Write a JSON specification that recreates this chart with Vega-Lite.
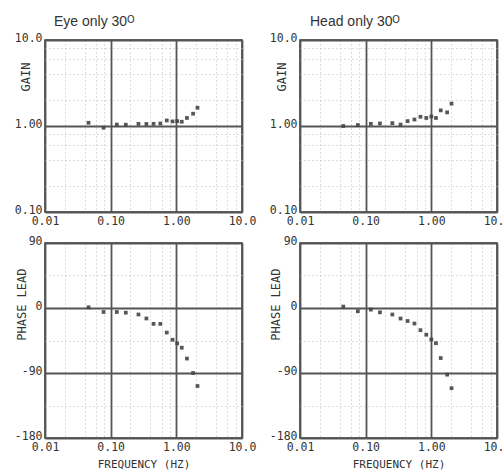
{
  "$schema": "https://vega.github.io/schema/vega-lite/v6.json",
  "background": "white",
  "padding": {"left": 13, "top": 14, "right": 0, "bottom": 0},
  "config": {
    "view": {"stroke": "#333", "strokeWidth": 1.5},
    "axis": {"domain": false, "ticks": false, "labelFont": "DejaVu Sans Mono", "labelFontSize": 11.5, "labelColor": "#333", "titleFont": "DejaVu Sans Mono", "titleFontWeight": "normal", "titleFontSize": 12, "titleColor": "#333", "labelPadding": 3, "labelOverlap": false, "labelBound": false, "labelFlush": false},
    "title": {"font": "Liberation Sans", "fontSize": 14, "fontWeight": "normal", "color": "#333", "anchor": "start", "frame": "group"},
    "point": {"shape": "square", "filled": true, "size": 14, "color": "#444", "opacity": 0.9}
  },
  "data": {"values": [
    {"panel": "Eye", "freq": 0.046, "gain": 1.09, "phase": 1},
    {"panel": "Eye", "freq": 0.078, "gain": 0.955, "phase": -5.5},
    {"panel": "Eye", "freq": 0.124, "gain": 1.04, "phase": -5.5},
    {"panel": "Eye", "freq": 0.17, "gain": 1.035, "phase": -6.5},
    {"panel": "Eye", "freq": 0.265, "gain": 1.06, "phase": -9},
    {"panel": "Eye", "freq": 0.35, "gain": 1.055, "phase": -14.5},
    {"panel": "Eye", "freq": 0.45, "gain": 1.06, "phase": -22},
    {"panel": "Eye", "freq": 0.57, "gain": 1.07, "phase": -22},
    {"panel": "Eye", "freq": 0.715, "gain": 1.16, "phase": -34},
    {"panel": "Eye", "freq": 0.875, "gain": 1.13, "phase": -44},
    {"panel": "Eye", "freq": 1.03, "gain": 1.14, "phase": -49},
    {"panel": "Eye", "freq": 1.21, "gain": 1.12, "phase": -55},
    {"panel": "Eye", "freq": 1.45, "gain": 1.24, "phase": -70},
    {"panel": "Eye", "freq": 1.8, "gain": 1.39, "phase": -90},
    {"panel": "Eye", "freq": 2.1, "gain": 1.63, "phase": -108},
    {"panel": "Head", "freq": 0.0456, "gain": 1.0, "phase": 2},
    {"panel": "Head", "freq": 0.076, "gain": 1.027, "phase": -4.5},
    {"panel": "Head", "freq": 0.12, "gain": 1.06, "phase": -2.2},
    {"panel": "Head", "freq": 0.165, "gain": 1.07, "phase": -6},
    {"panel": "Head", "freq": 0.255, "gain": 1.08, "phase": -9},
    {"panel": "Head", "freq": 0.34, "gain": 1.04, "phase": -14.6},
    {"panel": "Head", "freq": 0.435, "gain": 1.14, "phase": -18},
    {"panel": "Head", "freq": 0.553, "gain": 1.19, "phase": -21.5},
    {"panel": "Head", "freq": 0.683, "gain": 1.28, "phase": -30.7},
    {"panel": "Head", "freq": 0.838, "gain": 1.24, "phase": -37},
    {"panel": "Head", "freq": 1.0, "gain": 1.29, "phase": -43.6},
    {"panel": "Head", "freq": 1.175, "gain": 1.24, "phase": -48.7},
    {"panel": "Head", "freq": 1.39, "gain": 1.52, "phase": -69.3},
    {"panel": "Head", "freq": 1.74, "gain": 1.44, "phase": -92.3},
    {"panel": "Head", "freq": 2.03, "gain": 1.82, "phase": -111}
  ]},
  "spacing": 11,
  "hconcat": [
    {
      "spacing": 6,
      "vconcat": [
        {
          "width": 197, "height": 172,
          "title": {"text": "Eye only 30ᴼ", "dx": 9, "offset": 3},
          "transform": [{"filter": "datum.panel == 'Eye'"}],
          "mark": "point",
          "encoding": {
            "x": {"field": "freq", "type": "quantitative", "scale": {"type": "log", "domain": [0.01, 10], "nice": false},
              "axis": {"title": null, "values": [0.01, 0.02, 0.04, 0.06, 0.08, 0.1, 0.2, 0.4, 0.6, 0.8, 1, 2, 4, 6, 8, 10],
                "labelExpr": "datum.value == 0.01 ? '0.01' : datum.value == 0.1 ? '0.10' : datum.value == 1 ? '1.00' : datum.value == 10 ? '10.0' : ''",
                "gridColor": {"condition": {"test": "datum.value == 0.01 || datum.value == 0.1 || datum.value == 1 || datum.value == 10", "value": "#555"}, "value": "#bbb"},
                "gridWidth": {"condition": {"test": "datum.value == 0.01 || datum.value == 0.1 || datum.value == 1 || datum.value == 10", "value": 1.8}, "value": 1},
                "gridDash": {"condition": {"test": "datum.value == 0.01 || datum.value == 0.1 || datum.value == 1 || datum.value == 10", "value": []}, "value": [1, 3]}}},
            "y": {"field": "gain", "type": "quantitative", "scale": {"type": "log", "domain": [0.1, 10], "nice": false},
              "axis": {"title": "GAIN", "titleX": -20, "titleY": 22, "titleAlign": "right", "titleBaseline": "middle", "labelBaseline": "alphabetic", "labelOffset": 1,
                "values": [0.1, 0.2, 0.4, 0.6, 0.8, 1, 2, 4, 6, 8, 10],
                "labelExpr": "datum.value == 0.1 ? '0.10' : datum.value == 1 ? '1.00' : datum.value == 10 ? '10.0' : ''",
                "gridColor": {"condition": {"test": "datum.value == 0.1 || datum.value == 1 || datum.value == 10", "value": "#555"}, "value": "#bbb"},
                "gridWidth": {"condition": {"test": "datum.value == 0.1 || datum.value == 1 || datum.value == 10", "value": 1.8}, "value": 1},
                "gridDash": {"condition": {"test": "datum.value == 0.1 || datum.value == 1 || datum.value == 10", "value": []}, "value": [1, 3]}}}
          }
        },
        {
          "width": 197, "height": 195,
          "transform": [{"filter": "datum.panel == 'Eye'"}],
          "mark": "point",
          "encoding": {
            "x": {"field": "freq", "type": "quantitative", "scale": {"type": "log", "domain": [0.01, 10], "nice": false},
              "axis": {"title": "FREQUENCY (HZ)", "titleFontSize": 11, "titlePadding": 6, "values": [0.01, 0.02, 0.04, 0.06, 0.08, 0.1, 0.2, 0.4, 0.6, 0.8, 1, 2, 4, 6, 8, 10],
                "labelExpr": "datum.value == 0.01 ? '0.01' : datum.value == 0.1 ? '0.10' : datum.value == 1 ? '1.00' : datum.value == 10 ? '10.0' : ''",
                "gridColor": {"condition": {"test": "datum.value == 0.01 || datum.value == 0.1 || datum.value == 1 || datum.value == 10", "value": "#555"}, "value": "#bbb"},
                "gridWidth": {"condition": {"test": "datum.value == 0.01 || datum.value == 0.1 || datum.value == 1 || datum.value == 10", "value": 1.8}, "value": 1},
                "gridDash": {"condition": {"test": "datum.value == 0.01 || datum.value == 0.1 || datum.value == 1 || datum.value == 10", "value": []}, "value": [1, 3]}}},
            "y": {"field": "phase", "type": "quantitative", "scale": {"domain": [-180, 90], "nice": false, "zero": false},
              "axis": {"title": "PHASE LEAD", "titleX": -24, "titleY": 25, "titleAlign": "right", "titleBaseline": "middle", "labelBaseline": "alphabetic", "labelOffset": 1,
                "values": [-180, -135, -90, -45, 0, 45, 90],
                "labelExpr": "datum.value % 90 == 0 ? '' + datum.value : ''",
                "gridColor": {"condition": {"test": "datum.value % 90 == 0", "value": "#555"}, "value": "#bbb"},
                "gridWidth": {"condition": {"test": "datum.value % 90 == 0", "value": 1.8}, "value": 1},
                "gridDash": {"condition": {"test": "datum.value % 90 == 0", "value": []}, "value": [1, 3]}}}
          }
        }
      ]
    },
    {
      "spacing": 6,
      "vconcat": [
        {
          "width": 197, "height": 172,
          "title": {"text": "Head only 30ᴼ", "dx": 10, "offset": 3},
          "transform": [{"filter": "datum.panel == 'Head'"}],
          "mark": "point",
          "encoding": {
            "x": {"field": "freq", "type": "quantitative", "scale": {"type": "log", "domain": [0.01, 10], "nice": false},
              "axis": {"title": null, "values": [0.01, 0.02, 0.04, 0.06, 0.08, 0.1, 0.2, 0.4, 0.6, 0.8, 1, 2, 4, 6, 8, 10],
                "labelExpr": "datum.value == 0.01 ? '0.01' : datum.value == 0.1 ? '0.10' : datum.value == 1 ? '1.00' : datum.value == 10 ? '10.0' : ''",
                "gridColor": {"condition": {"test": "datum.value == 0.01 || datum.value == 0.1 || datum.value == 1 || datum.value == 10", "value": "#555"}, "value": "#bbb"},
                "gridWidth": {"condition": {"test": "datum.value == 0.01 || datum.value == 0.1 || datum.value == 1 || datum.value == 10", "value": 1.8}, "value": 1},
                "gridDash": {"condition": {"test": "datum.value == 0.01 || datum.value == 0.1 || datum.value == 1 || datum.value == 10", "value": []}, "value": [1, 3]}}},
            "y": {"field": "gain", "type": "quantitative", "scale": {"type": "log", "domain": [0.1, 10], "nice": false},
              "axis": {"title": "GAIN", "titleX": -19, "titleY": 22, "titleAlign": "right", "titleBaseline": "middle", "labelBaseline": "alphabetic", "labelOffset": 1,
                "values": [0.1, 0.2, 0.4, 0.6, 0.8, 1, 2, 4, 6, 8, 10],
                "labelExpr": "datum.value == 0.1 ? '0.10' : datum.value == 1 ? '1.00' : datum.value == 10 ? '10.0' : ''",
                "gridColor": {"condition": {"test": "datum.value == 0.1 || datum.value == 1 || datum.value == 10", "value": "#555"}, "value": "#bbb"},
                "gridWidth": {"condition": {"test": "datum.value == 0.1 || datum.value == 1 || datum.value == 10", "value": 1.8}, "value": 1},
                "gridDash": {"condition": {"test": "datum.value == 0.1 || datum.value == 1 || datum.value == 10", "value": []}, "value": [1, 3]}}}
          }
        },
        {
          "width": 197, "height": 195,
          "transform": [{"filter": "datum.panel == 'Head'"}],
          "mark": "point",
          "encoding": {
            "x": {"field": "freq", "type": "quantitative", "scale": {"type": "log", "domain": [0.01, 10], "nice": false},
              "axis": {"title": "FREQUENCY (HZ)", "titleFontSize": 11, "titlePadding": 6, "values": [0.01, 0.02, 0.04, 0.06, 0.08, 0.1, 0.2, 0.4, 0.6, 0.8, 1, 2, 4, 6, 8, 10],
                "labelExpr": "datum.value == 0.01 ? '0.01' : datum.value == 0.1 ? '0.10' : datum.value == 1 ? '1.00' : datum.value == 10 ? '10.0' : ''",
                "gridColor": {"condition": {"test": "datum.value == 0.01 || datum.value == 0.1 || datum.value == 1 || datum.value == 10", "value": "#555"}, "value": "#bbb"},
                "gridWidth": {"condition": {"test": "datum.value == 0.01 || datum.value == 0.1 || datum.value == 1 || datum.value == 10", "value": 1.8}, "value": 1},
                "gridDash": {"condition": {"test": "datum.value == 0.01 || datum.value == 0.1 || datum.value == 1 || datum.value == 10", "value": []}, "value": [1, 3]}}},
            "y": {"field": "phase", "type": "quantitative", "scale": {"domain": [-180, 90], "nice": false, "zero": false},
              "axis": {"title": "PHASE LEAD", "titleX": -25, "titleY": 25, "titleAlign": "right", "titleBaseline": "middle", "labelBaseline": "alphabetic", "labelOffset": 1,
                "values": [-180, -135, -90, -45, 0, 45, 90],
                "labelExpr": "datum.value % 90 == 0 ? '' + datum.value : ''",
                "gridColor": {"condition": {"test": "datum.value % 90 == 0", "value": "#555"}, "value": "#bbb"},
                "gridWidth": {"condition": {"test": "datum.value % 90 == 0", "value": 1.8}, "value": 1},
                "gridDash": {"condition": {"test": "datum.value % 90 == 0", "value": []}, "value": [1, 3]}}}
          }
        }
      ]
    }
  ]
}
